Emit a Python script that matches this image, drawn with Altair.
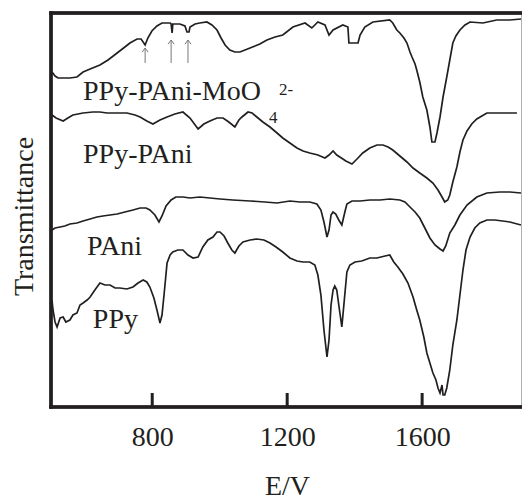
import altair as alt
import pandas as pd

FONT = "Liberation Serif"
INK = "#231f20"

# ---- spectra (x: wavenumber, y: transmittance, arbitrary offset units) ----
moo4_wn = [503, 512, 521, 556, 577, 595, 616, 645, 669, 696, 719, 734, 755, 767, 779, 787, 799, 814, 829, 853,
           856, 859, 861, 882, 897, 903, 909, 912, 927, 941, 962, 977, 992, 1004, 1016, 1030, 1045, 1060, 1090, 1119,
           1140, 1164, 1187, 1217, 1253, 1273, 1291, 1312, 1324, 1336, 1365, 1380, 1383, 1410, 1416, 1430, 1454, 1504,
           1513, 1525, 1534, 1546, 1555, 1564, 1570, 1579, 1584, 1593, 1602, 1614, 1623, 1629, 1638, 1644, 1653, 1662,
           1673, 1682, 1691, 1700, 1712, 1727, 1742, 1780, 1821, 1860, 1893]
moo4_t = [335, 331, 329, 329, 330, 335, 338, 342, 347, 354, 360, 364, 368, 368, 362, 369, 376, 381, 384, 384,
          383, 374, 383, 383, 381, 375, 375, 380, 383, 384, 385, 382, 377, 369, 362, 357, 355, 355, 359, 363,
          367, 370, 372, 380, 384, 379, 385, 382, 372, 377, 382, 380, 364, 364, 372, 380, 385, 387,
          384, 377, 374, 369, 364, 355, 350, 343, 337, 325, 310, 297, 280, 265, 265, 274, 290, 310,
          330, 347, 364, 371, 377, 382, 385, 384, 387, 387, 388]

ppypani_wn = [503, 515, 536, 550, 565, 595, 624, 645, 666, 696, 725, 749, 764, 784, 802, 823, 844, 867, 891, 912,
              936, 953, 971, 992, 1010, 1027, 1045, 1057, 1066, 1084, 1096, 1110, 1128, 1149, 1170, 1187, 1208, 1229,
              1247, 1267, 1291, 1312, 1324, 1336, 1347, 1356, 1374, 1392, 1407, 1424, 1445, 1466, 1484, 1499, 1513,
              1534, 1555, 1573, 1593, 1614, 1632, 1647, 1659, 1667, 1676, 1682, 1691, 1703, 1712, 1721, 1733, 1747,
              1762, 1777, 1792, 1830, 1881]
ppypani_t = [292, 289, 286, 289, 292, 294, 295, 295, 294, 294, 294, 292, 290, 286, 283, 287, 290, 293, 295, 289,
             278, 283, 286, 289, 289, 285, 280, 287, 290, 295, 294, 290, 285, 280, 274, 269, 264, 259,
             256, 254, 252, 249, 252, 256, 252, 250, 246, 243, 248, 254, 259, 262, 262, 260, 257,
             251, 245, 239, 234, 229, 224, 217, 210, 205, 207, 212, 225, 240, 255, 267, 276, 283,
             288, 291, 294, 294, 294]

pani_wn = [503, 512, 527, 541, 556, 577, 595, 616, 636, 654, 675, 696, 719, 743, 764, 782, 793, 808, 820, 829,
           841, 856, 870, 891, 912, 941, 971, 1001, 1039, 1090, 1134, 1170, 1208, 1238, 1267, 1288, 1300, 1309,
           1318, 1324, 1330, 1336, 1344, 1353, 1362, 1371, 1377, 1392, 1416, 1445, 1475, 1504, 1534, 1549, 1564,
           1579, 1593, 1608, 1623, 1638, 1653, 1662, 1670, 1682, 1697, 1712, 1733, 1762, 1792, 1830, 1860, 1893]
pani_t = [177, 179, 180, 181, 183, 184, 186, 188, 190, 191, 192, 193, 195, 197, 199, 199, 197, 192, 185, 191,
          201, 207, 210, 210, 209, 210, 209, 208, 207, 206, 205, 204, 206, 205, 205, 203, 197, 185,
          170, 177, 192, 195, 193, 187, 182, 195, 203, 206, 206, 207, 207, 208, 207, 205, 200,
          195, 189, 179, 169, 162, 158, 156, 161, 174, 182, 192, 202, 210, 214, 215, 215, 214]

ppy_wn = [503, 506, 512, 518, 527, 536, 544, 556, 565, 577, 586, 595, 607, 616, 630, 645, 660, 675, 690, 704,
          725, 743, 758, 773, 784, 793, 805, 814, 823, 829, 835, 844, 853, 861, 876, 891, 906, 921, 936, 950,
          965, 980, 992, 1001, 1013, 1024, 1036, 1045, 1057, 1069, 1090, 1110, 1131, 1149, 1167, 1187, 1208, 1229,
          1247, 1267, 1282, 1291, 1300, 1309, 1318, 1324, 1330, 1336, 1341, 1347, 1353, 1362, 1368, 1377, 1386,
          1401, 1421, 1445, 1466, 1490, 1504, 1516, 1528, 1543, 1558, 1573, 1584, 1593, 1605, 1614, 1623, 1632,
          1641, 1647, 1653, 1659, 1662, 1667, 1673, 1682, 1691, 1703, 1712, 1721, 1730, 1742, 1756, 1771, 1792,
          1815, 1839, 1860, 1893]
ppy_t = [107, 97, 85, 80, 89, 90, 85, 87, 92, 94, 102, 104, 107, 110, 117, 124, 122, 122, 119, 119,
         118, 120, 124, 127, 125, 120, 109, 97, 84, 92, 112, 144, 152, 155, 157, 157, 152, 149, 150, 160,
         167, 170, 175, 175, 171, 164, 157, 154, 161, 165, 167, 168, 167, 164, 160, 155, 149, 146,
         145, 145, 142, 132, 112, 77, 50, 67, 102, 117, 121, 117, 102, 80, 102, 135, 142,
         145, 146, 149, 149, 151, 152, 145, 140, 133, 124, 110, 97, 87, 70, 54, 44, 34,
         27, 19, 14, 22, 12, 12, 19, 37, 62, 87, 112, 137, 157, 170, 179, 184, 187,
         187, 186, 185, 182]

# ---- annotations ----
label_text = ["PPy-PAni-MoO", "PPy-PAni", "PAni", "PPy"]
label_wn = [595, 595, 607, 624]
label_t = [307, 244, 152, 79]

script_text = ["4", "2-"]
script_wn = [1146, 1176]
script_t = [284, 312]

arrow_wn = [779, 856, 906]
arrow_tip = [359, 367, 367]
arrow_base = [344, 344, 344]

tick_values = [800, 1200, 1600]

series = [("PPy-PAni-MoO4", moo4_wn, moo4_t), ("PPy-PAni", ppypani_wn, ppypani_t),
          ("PAni", pani_wn, pani_t), ("PPy", ppy_wn, ppy_t)]
rows = []
for name, xs, ys in series:
    for i, (x, y) in enumerate(zip(xs, ys)):
        rows.append({"series": name, "wn": x, "t": y, "i": i})
df = pd.DataFrame(rows)

labels_df = pd.DataFrame({"text": label_text, "wn": label_wn, "t": label_t})
scripts_df = pd.DataFrame({"text": script_text, "wn": script_wn, "t": script_t})
arrows_df = pd.DataFrame({"wn": arrow_wn, "tip": arrow_tip, "base": arrow_base})
ticks_df = pd.DataFrame({"wn": tick_values})

W, H = 471, 394
xscale = alt.Scale(domain=[500, 1896], nice=False, zero=False)
yscale = alt.Scale(domain=[0, 394], nice=False, zero=False)

xaxis = alt.Axis(values=tick_values, format="d", title="E/V", grid=False, domain=False, ticks=False,
                 tickSize=0, labelFont=FONT, labelFontSize=28, labelColor=INK, labelPadding=38,
                 labelBaseline="alphabetic", labelFlush=False,
                 titleFont=FONT, titleFontSize=28, titleFontWeight="normal", titleColor=INK,
                 titleX=236, titleY=87, titleBaseline="alphabetic", titleAlign="center")
yaxis = alt.Axis(title="Transmittance", labels=False, ticks=False, domain=False, grid=False,
                 titleFont=FONT, titleFontSize=28, titleFontWeight="normal", titleColor=INK,
                 titleX=-19, titleY=203, titleAngle=270, titleAlign="center", titleBaseline="alphabetic")

lines = alt.Chart(df).mark_line(color=INK, strokeWidth=1.7).encode(
    x=alt.X("wn:Q", scale=xscale, axis=xaxis),
    y=alt.Y("t:Q", scale=yscale, axis=yaxis),
    detail="series:N",
    order="i:Q",
)

ticks = alt.Chart(ticks_df).mark_rule(color=INK, strokeWidth=3).encode(
    x=alt.X("wn:Q", scale=xscale),
    y=alt.value(H),
    y2=alt.value(H - 14),
)

# frame: top, left, bottom (dark), right edge (faint, mostly outside the picture)
frame_top = alt.Chart(ticks_df).mark_rule(color=INK, strokeWidth=3).encode(
    x=alt.value(-1.5), x2=alt.value(W + 2), y=alt.value(0))
frame_left = alt.Chart(ticks_df).mark_rule(color=INK, strokeWidth=3).encode(
    x=alt.value(0), y=alt.value(-1.5), y2=alt.value(H + 1.5))
frame_bottom = alt.Chart(ticks_df).mark_rule(color=INK, strokeWidth=3).encode(
    x=alt.value(-1.5), x2=alt.value(W + 2), y=alt.value(H))
frame_right = alt.Chart(ticks_df).mark_rule(color="#b0b0b0", strokeWidth=1).encode(
    x=alt.value(W - 0.5), y=alt.value(0), y2=alt.value(H))

arrow_shafts = alt.Chart(arrows_df).mark_rule(color="#777777", strokeWidth=1).encode(
    x=alt.X("wn:Q", scale=xscale),
    y=alt.Y("base:Q", scale=yscale),
    y2="tip:Q",
)
arrow_heads = alt.Chart(arrows_df).mark_point(
    shape="M -1 1.4 L 0 0 L 1 1.4", filled=False, stroke="#777777", strokeWidth=1, size=36, opacity=1
).encode(
    x=alt.X("wn:Q", scale=xscale),
    y=alt.Y("tip:Q", scale=yscale),
)

labels = alt.Chart(labels_df).mark_text(
    font=FONT, fontSize=28, color=INK, align="left", baseline="alphabetic"
).encode(
    x=alt.X("wn:Q", scale=xscale),
    y=alt.Y("t:Q", scale=yscale),
    text="text:N",
)
scripts = alt.Chart(scripts_df).mark_text(
    font=FONT, fontSize=17, color=INK, align="left", baseline="alphabetic"
).encode(
    x=alt.X("wn:Q", scale=xscale),
    y=alt.Y("t:Q", scale=yscale),
    text="text:N",
)

chart = alt.layer(lines, ticks, frame_right, frame_top, frame_left, frame_bottom,
                  arrow_shafts, arrow_heads, labels, scripts).properties(
    width=W,
    height=H,
    autosize=alt.AutoSizeParams(type="none"),
    padding={"left": 51, "top": 13, "right": 0, "bottom": 93},
    background="white",
).configure_view(strokeWidth=0)

chart.save("out.html", embed_options={"renderer": "svg", "actions": False})
